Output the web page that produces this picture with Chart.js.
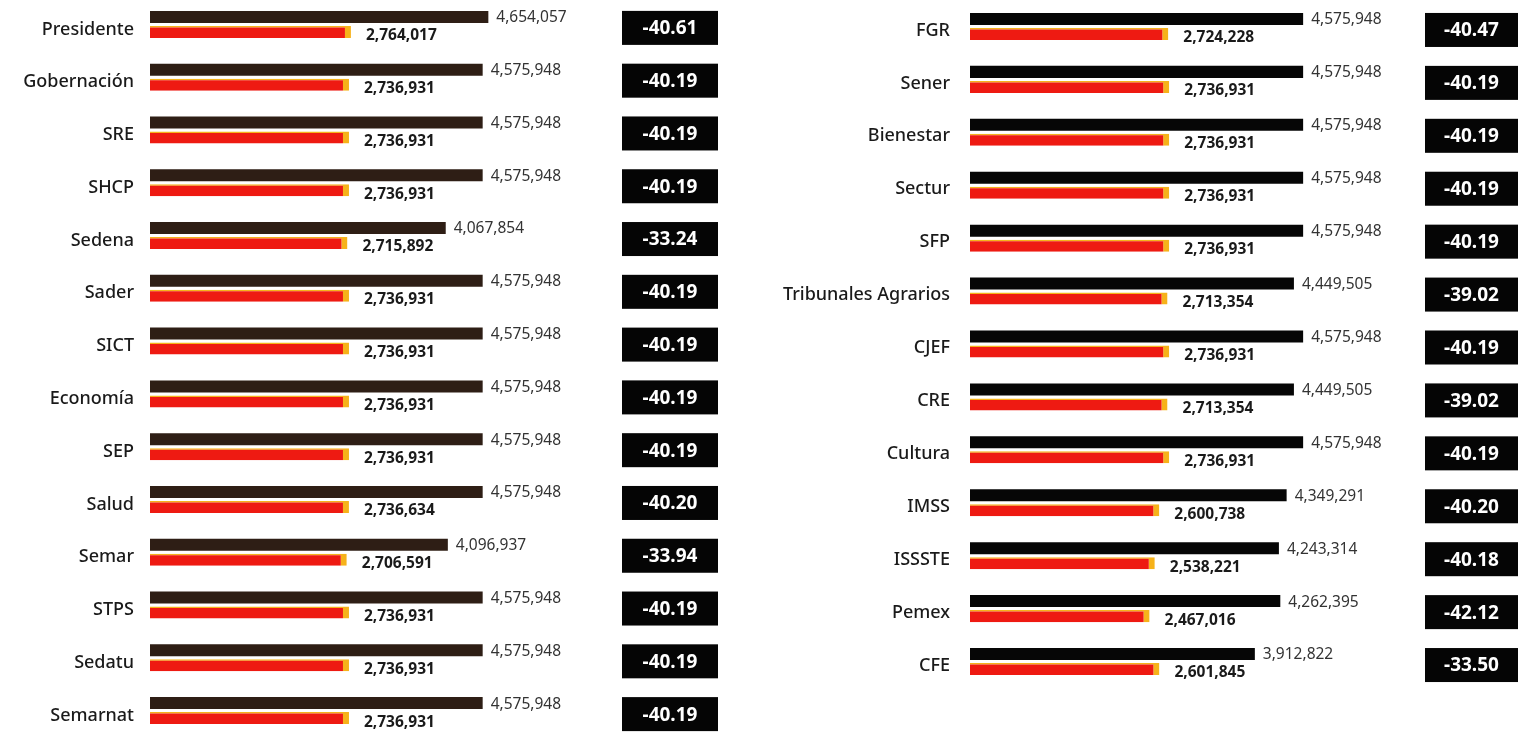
<!DOCTYPE html>
<html>
<head>
<meta charset="utf-8">
<script src="https://cdn.jsdelivr.net/npm/chart.js@4/dist/chart.umd.min.js"></script>
<style>
  html, body { margin: 0; padding: 0; background: #ffffff; }
  body { width: 1527px; height: 736px; overflow: hidden; position: relative; }
  #left { position: absolute; left: 0; top: -2px; }
  #right { position: absolute; left: 740px; top: 0; }
</style>
</head>
<body>
<canvas id="left" width="740" height="739"></canvas>
<canvas id="right" width="787" height="688"></canvas>
<script>
// ---- Data (left panel) ----
const leftCategories = ["Presidente", "Gobernación", "SRE", "SHCP", "Sedena", "Sader", "SICT", "Economía", "SEP", "Salud", "Semar", "STPS", "Sedatu", "Semarnat"];
const leftPrevious = [4654057, 4575948, 4575948, 4575948, 4067854, 4575948, 4575948, 4575948, 4575948, 4575948, 4096937, 4575948, 4575948, 4575948];
const leftNew = [2764017, 2736931, 2736931, 2736931, 2715892, 2736931, 2736931, 2736931, 2736931, 2736634, 2706591, 2736931, 2736931, 2736931];
const leftChange = [-40.61, -40.19, -40.19, -40.19, -33.24, -40.19, -40.19, -40.19, -40.19, -40.20, -33.94, -40.19, -40.19, -40.19];

// ---- Data (right panel) ----
const rightCategories = ["FGR", "Sener", "Bienestar", "Sectur", "SFP", "Tribunales Agrarios", "CJEF", "CRE", "Cultura", "IMSS", "ISSSTE", "Pemex", "CFE"];
const rightPrevious = [4575948, 4575948, 4575948, 4575948, 4575948, 4449505, 4575948, 4449505, 4575948, 4349291, 4243314, 4262395, 3912822];
const rightNew = [2724228, 2736931, 2736931, 2736931, 2736931, 2713354, 2736931, 2713354, 2736931, 2600738, 2538221, 2467016, 2601845];
const rightChange = [-40.47, -40.19, -40.19, -40.19, -40.19, -39.02, -40.19, -39.02, -40.19, -40.20, -40.18, -42.12, -33.50];

const xMax = 6000000;
const fmt = v => v.toLocaleString('en-US');

function labelPlugin(prev, next, change, boxCx, boxW) {
  return {
    id: 'valueLabels',
    afterDatasetsDraw(chart) {
      const ctx = chart.ctx;
      const m0 = chart.getDatasetMeta(0);
      const m1 = chart.getDatasetMeta(1);
      const yScale = chart.scales.y;
      ctx.save();
      ctx.textBaseline = 'middle';
      ctx.textAlign = 'left';
      m0.data.forEach((bar, i) => {
        ctx.font = '15.5px "Noto Sans"';
        ctx.fillStyle = '#333333';
        ctx.fillText(fmt(prev[i]), bar.x + 8, bar.y + 1);
      });
      m1.data.forEach((bar, i) => {
        ctx.font = 'bold 15.5px "Noto Sans"';
        ctx.fillStyle = '#1a1a1a';
        ctx.fillText(fmt(next[i]), bar.x + 15, bar.y + 4);
      });
      change.forEach((p, i) => {
        const cy = yScale.getPixelForValue(i) + 3.5;
        ctx.fillStyle = '#050505';
        ctx.fillRect(boxCx - boxW / 2, cy - 17, boxW, 34);
        ctx.fillStyle = '#ffffff';
        ctx.textAlign = 'center';
        ctx.font = 'bold 19px "Noto Sans"';
        ctx.fillText(p.toFixed(2), boxCx, cy + 1);
        ctx.textAlign = 'left';
      });
      ctx.restore();
    }
  };
}

function makeChart(id, cats, prev, next, change, opts) {
  return new Chart(document.getElementById(id), {
    type: 'bar',
    data: {
      labels: cats,
      datasets: [
        {
          label: 'Anterior',
          data: prev,
          backgroundColor: opts.blackColor,
          borderWidth: 0,
          categoryPercentage: 0.568,
          barPercentage: 0.8
        },
        {
          label: 'Nuevo',
          data: next,
          backgroundColor: '#ee1a12',
          borderColor: '#f6b21a',
          borderWidth: { top: 1.5, right: 6, bottom: 0, left: 0 },
          borderSkipped: false,
          categoryPercentage: 0.568,
          barPercentage: 0.8
        }
      ]
    },
    options: {
      indexAxis: 'y',
      responsive: false,
      animation: false,
      devicePixelRatio: 1,
      layout: { padding: { left: 0, right: opts.padRight, top: 0, bottom: 0 } },
      plugins: { legend: { display: false }, tooltip: { enabled: false } },
      scales: {
        x: { display: false, min: 0, max: xMax },
        y: {
          grid: { display: false, drawTicks: false },
          border: { display: false },
          ticks: {
            padding: opts.tickPad,
            labelOffset: opts.labelOffset,
            color: '#1a1a1a',
            font: { family: '"Noto Sans"', size: 18, weight: '500' }
          },
          afterFit(scale) {
            scale.width = opts.axisWidth;
            scale.paddingTop = 0;
            scale.paddingBottom = 0;
          }
        }
      }
    },
    plugins: [labelPlugin(prev, next, change, opts.boxCx, opts.boxW)]
  });
}

makeChart('left', leftCategories, leftPrevious, leftNew, leftChange, {
  blackColor: '#2e1e15', padRight: 153.8, axisWidth: 150, tickPad: 16, labelOffset: 5, boxCx: 670, boxW: 96
});
makeChart('right', rightCategories, rightPrevious, rightNew, rightChange, {
  blackColor: '#060606', padRight: 120.2, axisWidth: 230, tickPad: 20, labelOffset: 4, boxCx: 731.5, boxW: 93
});
</script>
</body>
</html>
